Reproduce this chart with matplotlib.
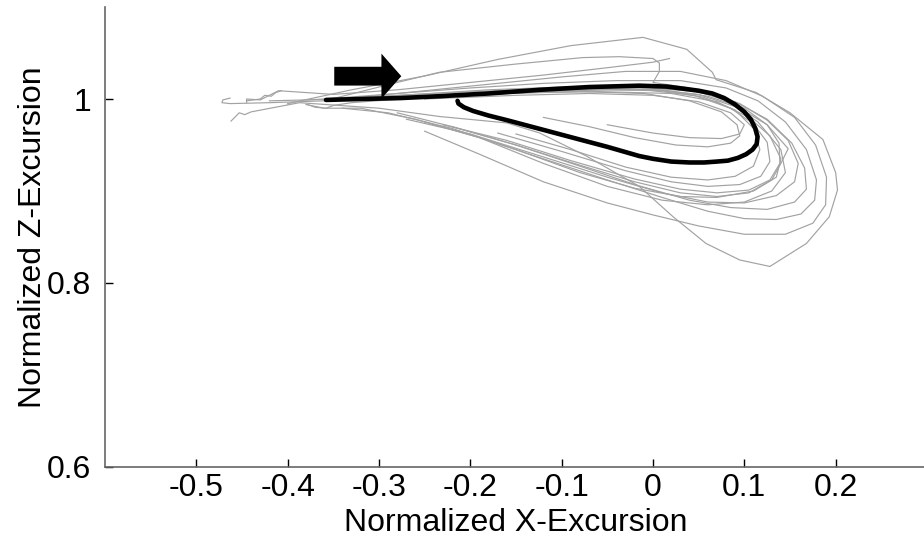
import matplotlib
matplotlib.use('Agg')
import matplotlib.pyplot as plt

plt.rcParams['font.family'] = ['Liberation Sans', 'DejaVu Sans']

# mean trajectory (thick black)
mean_x = [-0.358, -0.32, -0.277, -0.234, -0.18, -0.124, -0.07, -0.015, 0.015, 0.035, 0.05, 0.065,
          0.078, 0.09, 0.1, 0.107, 0.112, 0.1145, 0.1135, 0.109, 0.102, 0.093, 0.082, 0.07, 0.056,
          0.04, 0.02, 0.0, -0.015, -0.05, -0.088, -0.124, -0.16, -0.18, -0.197, -0.207, -0.213,
          -0.214]
mean_y = [0.999, 1.0, 1.001, 1.003, 1.006, 1.01, 1.013, 1.0145, 1.0135, 1.011, 1.009, 1.006,
          1.001, 0.994, 0.986, 0.978, 0.968, 0.959, 0.951, 0.945, 0.940, 0.936, 0.933, 0.932, 0.931,
          0.931, 0.932, 0.935, 0.938, 0.948, 0.958, 0.9675, 0.977, 0.982, 0.987, 0.991, 0.995,
          0.998]

# single trials (thin gray)
t1_x = [-0.40, -0.33, -0.25, -0.17, -0.09, -0.011, 0.037, 0.065, 0.069, 0.113, 0.15, 0.186, 0.2,
        0.202, 0.193, 0.168, 0.128, 0.095, 0.058, 0.022, -0.015, -0.073, -0.124, -0.16, -0.234,
        -0.30, -0.387, -0.44, -0.447, -0.453, -0.462]
t1_y = [0.995, 1.01, 1.025, 1.043, 1.058, 1.067, 1.054, 1.029, 1.021, 1.007, 0.985, 0.956, 0.92,
        0.901, 0.872, 0.843, 0.818, 0.825, 0.843, 0.872, 0.905, 0.938, 0.963, 0.974, 0.981,
        0.99, 0.996, 0.986, 0.983, 0.985, 0.976]

t2_x = [-0.36, -0.28, -0.2, -0.12, -0.04, 0.03, 0.08, 0.115, 0.145, 0.168, 0.179, 0.177, 0.162,
        0.135, 0.1, 0.06, 0.01, -0.05, -0.12, -0.19, -0.26, -0.32, -0.36, -0.38]
t2_y = [1.0, 1.006, 1.012, 1.017, 1.02, 1.02, 1.012, 0.998, 0.975, 0.945, 0.912, 0.89, 0.875,
        0.869, 0.87, 0.878, 0.893, 0.912, 0.935, 0.958, 0.978, 0.99, 0.99, 0.994]

t3_x = [-0.42, -0.34, -0.26, -0.18, -0.1, -0.02, 0.04, 0.09, 0.125, 0.152, 0.166, 0.168, 0.155,
        0.125, 0.085, 0.04, -0.02, -0.08, -0.15, -0.22, -0.28]
t3_y = [0.998, 1.0, 1.005, 1.01, 1.013, 1.014, 1.01, 0.997, 0.978, 0.952, 0.925, 0.902, 0.888,
        0.88, 0.882, 0.89, 0.907, 0.927, 0.95, 0.97, 0.985]

t4_x = [-0.38, -0.3, -0.2, -0.1, -0.02, 0.05, 0.095, 0.125, 0.148, 0.159, 0.155, 0.135, 0.1,
        0.06, 0.01, -0.05, -0.12, -0.2, -0.27]
t4_y = [0.999, 1.003, 1.008, 1.012, 1.013, 1.008, 0.995, 0.977, 0.955, 0.93, 0.91, 0.895, 0.887,
        0.888, 0.898, 0.915, 0.937, 0.962, 0.978]

t5_x = [-0.33, -0.25, -0.17, -0.09, -0.01, 0.05, 0.095, 0.125, 0.148, 0.14, 0.13, 0.105, 0.07,
        0.03, -0.02, -0.08, -0.15, -0.22]
t5_y = [1.001, 1.004, 1.008, 1.011, 1.011, 1.005, 0.99, 0.972, 0.946, 0.93, 0.912, 0.898, 0.894,
        0.898, 0.91, 0.928, 0.95, 0.97]

t6_x = [-0.30, -0.22, -0.14, -0.06, 0.01, 0.06, 0.1, 0.125, 0.138, 0.139, 0.128, 0.105, 0.07,
        0.03, -0.02, -0.09, -0.16, -0.23]
t6_y = [1.0, 1.005, 1.009, 1.011, 1.01, 1.003, 0.99, 0.972, 0.952, 0.93, 0.912, 0.901, 0.898,
        0.902, 0.913, 0.933, 0.955, 0.972]

t7_x = [-0.32, -0.24, -0.16, -0.08, -0.01, 0.045, 0.085, 0.11, 0.125, 0.128, 0.118, 0.095, 0.06,
        0.02, -0.03, -0.1, -0.17]
t7_y = [1.0, 1.003, 1.007, 1.01, 1.01, 1.004, 0.99, 0.973, 0.953, 0.932, 0.916, 0.907, 0.905,
        0.91, 0.922, 0.943, 0.963]

t8_x = [-0.28, -0.2, -0.12, -0.05, 0.01, 0.055, 0.09, 0.11, 0.117, 0.11, 0.09, 0.06, 0.02, -0.03,
        -0.09, -0.15]
t8_y = [1.0, 1.004, 1.008, 1.01, 1.009, 1.002, 0.988, 0.968, 0.945, 0.927, 0.916, 0.912, 0.915,
        0.926, 0.945, 0.962]

t9_x = [-0.32, -0.24, -0.16, -0.08, -0.01, 0.04, 0.075, 0.092, 0.095, 0.085, 0.06, 0.025, -0.02,
        -0.07, -0.12]
t9_y = [1.0, 1.003, 1.006, 1.008, 1.006, 0.998, 0.986, 0.972, 0.96, 0.952, 0.948, 0.95, 0.958,
        0.97, 0.98]

t10_x = [-0.25, -0.15, -0.07, 0.0, 0.05, 0.085, 0.1, 0.095, 0.075, 0.04, 0.0, -0.05]
t10_y = [1.0, 1.004, 1.006, 1.004, 0.997, 0.985, 0.972, 0.962, 0.957, 0.958, 0.963, 0.972]

t11_x = [-0.36, -0.28, -0.234, -0.15, -0.077, -0.037, 0.0, 0.007, 0.007, 0.0, 0.04, 0.08, 0.115,
         0.14, 0.145, 0.13, 0.1, 0.06, 0.01, -0.05, -0.12, -0.19, -0.25]
t11_y = [0.998, 1.018, 1.029, 1.038, 1.045, 1.046, 1.044, 1.039, 1.030, 1.018, 1.012, 0.998,
         0.975, 0.945, 0.92, 0.90, 0.888, 0.885, 0.89, 0.905, 0.93, 0.958, 0.975]

t12_x = [-0.34, -0.26, -0.18, -0.1, -0.03, 0.03, 0.08, 0.12, 0.155, 0.178, 0.19, 0.189, 0.175,
         0.145, 0.1, 0.05, 0.0, -0.05, -0.12, -0.19, -0.25]
t12_y = [1.0, 1.008, 1.016, 1.024, 1.03, 1.03, 1.02, 1.003, 0.98, 0.95, 0.915, 0.885, 0.865,
         0.853, 0.853, 0.862, 0.874, 0.887, 0.91, 0.94, 0.965]

t13_x = [-0.463, -0.471, -0.472, -0.463, -0.42, -0.36, -0.3, -0.22, -0.14, -0.06, 0.02, 0.07,
         0.105, 0.128, 0.14, 0.135, 0.11, 0.07, 0.03, -0.02, -0.08, -0.15, -0.22, -0.29, -0.34]
t13_y = [1.001, 0.999, 0.996, 0.995, 0.996, 0.998, 1.001, 1.004, 1.007, 1.008, 1.006, 0.997,
         0.98, 0.96, 0.935, 0.915, 0.90, 0.893, 0.894, 0.903, 0.92, 0.945, 0.968, 0.985, 0.99]

t14_x = [-0.445, -0.445, -0.43, -0.42, -0.41, -0.35, -0.28, -0.2, -0.12, -0.05, 0.0, 0.018]
t14_y = [0.996, 1.0, 0.999, 1.004, 1.009, 1.005, 1.01, 1.018, 1.026, 1.034, 1.04, 1.044]

t15_x = [-0.445, -0.43, -0.425, -0.418, -0.413, -0.407]
t15_y = [0.998, 1.0, 1.004, 1.003, 1.007, 1.009]

t16_x = [-0.378, -0.37, -0.358, -0.35, -0.33, -0.29, -0.24]
t16_y = [0.994, 0.991, 0.990, 0.993, 0.996, 0.999, 1.002]

gray_x = [t1_x, t2_x, t3_x, t4_x, t5_x, t6_x, t7_x, t8_x, t9_x, t10_x, t11_x, t12_x, t13_x,
          t14_x, t15_x, t16_x]
gray_y = [t1_y, t2_y, t3_y, t4_y, t5_y, t6_y, t7_y, t8_y, t9_y, t10_y, t11_y, t12_y, t13_y,
          t14_y, t15_y, t16_y]

# arrow: tail and tip of the block arrow, in data units
arrow_tail = (-0.349, 1.0248)
arrow_tip = (-0.2756, 1.0248)

xticks = [-0.5, -0.4, -0.3, -0.2, -0.1, 0, 0.1, 0.2]
xticklabels = ['-0.5', '-0.4', '-0.3', '-0.2', '-0.1', '0', '0.1', '0.2']
yticks = [0.6, 0.8, 1.0]
yticklabels = ['0.6', '0.8', '1']

fig = plt.figure(figsize=(9.24, 5.37), dpi=100)
ax = fig.add_axes([105/924, 70/537, 822/924, 460/537])

for xs, ys in zip(gray_x, gray_y):
    ax.plot(xs, ys, color='#a2a2a2', lw=0.85)
ax.plot(mean_x, mean_y, color='k', lw=3.3, solid_capstyle='round', solid_joinstyle='round')

ax.annotate('', xy=arrow_tip, xytext=arrow_tail,
            arrowprops=dict(arrowstyle='simple,head_length=0.55,head_width=1.25,tail_width=0.52',
                            mutation_scale=26, fc='k', ec='k', lw=0, shrinkA=0, shrinkB=0))

ax.set_xlim(-0.6, 0.3)
ax.set_ylim(0.6, 1.1)
ax.set_xticks(xticks)
ax.set_xticklabels(xticklabels)
ax.set_yticks(yticks)
ax.set_yticklabels(yticklabels)
ax.tick_params(direction='in', length=5.5, width=1, labelsize=23, pad=4)
ax.tick_params(axis='y', pad=10)
for s in ['top', 'right']:
    ax.spines[s].set_visible(False)
for s in ['left', 'bottom']:
    ax.spines[s].set_color('#666666')
    ax.spines[s].set_linewidth(1.2)

ax.set_xlabel('Normalized X-Excursion', fontsize=23, labelpad=4)
ax.set_ylabel('Normalized Z-Excursion', fontsize=23, labelpad=-1)

plt.savefig('out.png', dpi=100)
